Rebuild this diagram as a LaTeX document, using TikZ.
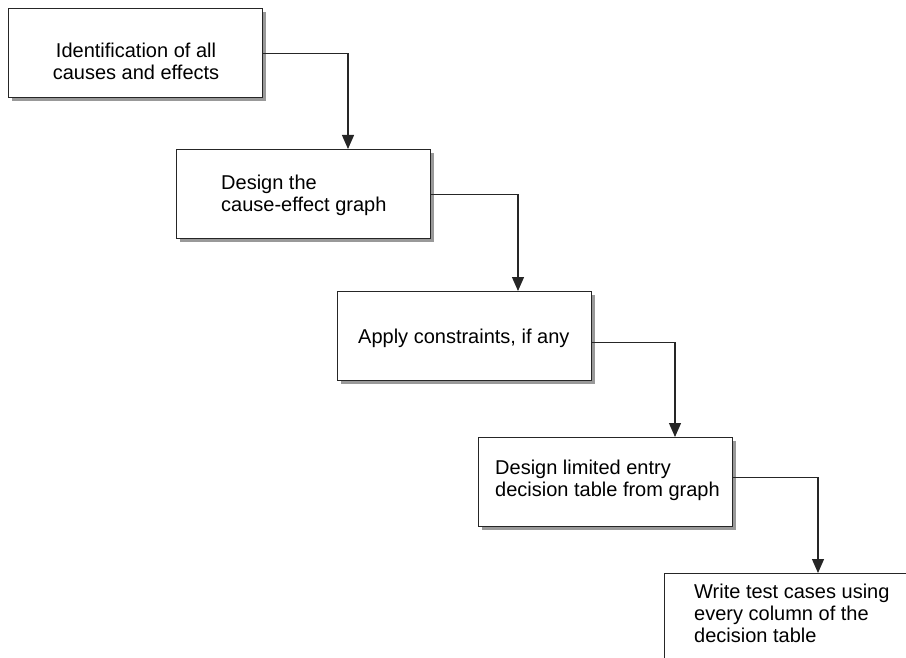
\documentclass[tikz,border=0pt]{standalone}
\usepackage{fontspec}
\setmainfont{Liberation Sans}
\usetikzlibrary{arrows.meta,shadows}
\begin{document}
\begin{tikzpicture}[x=1pt,y=-1pt,
  box/.style={draw=black!85, line width=1.4pt, fill=white, rectangle, anchor=north west,
    minimum width=254pt, minimum height=89pt, inner sep=0pt,
    general shadow={fill=black!40, shadow xshift=3pt, shadow yshift=-3pt}},
  lbl/.style={font=\fontsize{20}{22}\selectfont, inner sep=0pt, anchor=base west, align=left},
  arr/.style={draw=black!85, line width=1.2pt, -{Triangle[width=12pt,length=14pt]}}]
\useasboundingbox (0,0) rectangle (906,658);
\clip (0,0) rectangle (906,658);
\node[box] (b1) at (8,8) {};
\node[box] (b2) at (176,149) {};
\node[box] (b3) at (337,291) {};
\node[box] (b4) at (478,437) {};
\node[box] (b5) at (664,573) {};
\node[lbl, anchor=base, align=center] (t1) at (136,80) {Identification of all\\causes and effects};
\node[lbl] (t2) at (221,212) {Design the\\cause-effect graph};
\node[lbl] (t3) at (358,343) {Apply constraints, if any};
\node[lbl] (t4) at (495,496) {Design limited entry\\decision table from graph};
\node[lbl] (t5) at (694,642) {Write test cases using\\every column of the\\decision table};
\draw[arr] (b1.east) -| ([xshift=172pt]b2.north west);
\draw[arr] (b2.east) -| ([xshift=181pt]b3.north west);
\draw[arr] ([yshift=-6pt]b3.east) -| ([xshift=197pt]b4.north west);
\draw[arr] ([yshift=5pt]b4.east) -| ([xshift=154pt]b5.north west);
\end{tikzpicture}
\end{document}
